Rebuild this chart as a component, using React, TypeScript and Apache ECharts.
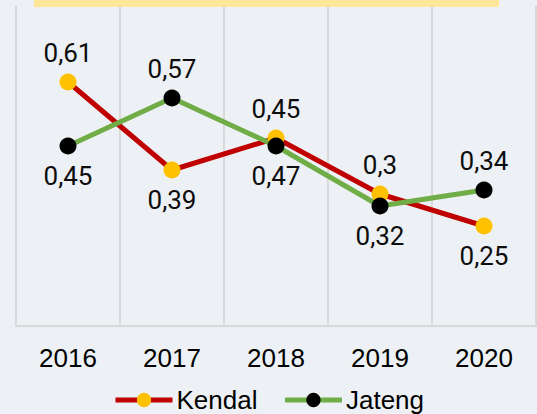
import React, { useEffect, useRef } from "react";
import * as echarts from "echarts";

const years = ["2016", "2017", "2018", "2019", "2020"];
const kendal = [0.61, 0.39, 0.47, 0.33, 0.25];
const jateng = [0.45, 0.57, 0.45, 0.3, 0.34];
const kendalLabels = ["0,61", "0,39", "0,45", "0,3", "0,25"];
const jatengLabels = ["0,45", "0,57", "0,47", "0,32", "0,34"];

export default function App() {
  const ref = useRef<HTMLDivElement>(null);
  useEffect(() => {
    document.body.style.margin = "0";
    const chart = echarts.init(ref.current!, null, { renderer: "svg" });
    const labelFont = {
      fontFamily: "Roboto",
      fontSize: 26,
      color: "#0d0d0d",
      distance: 8,
    };
    const mk = (vals: number[], other: number[], labels: string[]) =>
      vals.map((v, i) => ({
        value: v,
        label: {
          position: v >= other[i] ? "top" : "bottom",
          formatter: labels[i],
        },
      }));
    chart.setOption({
      animation: false,
      backgroundColor: "#edf1f5",
      graphic: [
        {
          type: "rect",
          shape: { x: 34, y: 0, width: 465, height: 7 },
          style: { fill: "#ffe699" },
        },
      ],
      grid: { left: 16, right: 1, top: 6, bottom: 88 },
      legend: {
        bottom: -4,
        left: "center",
        itemWidth: 57,
        itemHeight: 18,
        itemGap: 25,
        lineStyle: { width: 5 },
        textStyle: { fontFamily: "Liberation Sans", fontSize: 26, color: "#000", padding: [0, 0, 0, -1] },
        data: ["Kendal", "Jateng"],
      },
      xAxis: {
        type: "category",
        data: years,
        boundaryGap: true,
        axisLine: { lineStyle: { color: "#d9d9d9", width: 2 } },
        axisTick: { show: false },
        splitLine: { show: true, lineStyle: { color: "#d9d9d9", width: 2 } },
        axisLabel: {
          fontFamily: "Liberation Sans",
          fontSize: 26,
          color: "#000",
          margin: 19,
        },
      },
      yAxis: {
        type: "value",
        min: 0,
        max: 0.8,
        show: false,
        splitLine: { show: false },
      },
      series: [
        {
          name: "Kendal",
          type: "line",
          data: mk(kendal, jateng, kendalLabels),
          symbol: "circle",
          symbolSize: 17,
          lineStyle: { color: "#c00000", width: 5 },
          itemStyle: { color: "#ffc000" },
          label: { show: true, ...labelFont },
        },
        {
          name: "Jateng",
          type: "line",
          data: mk(jateng, kendal, jatengLabels),
          symbol: "circle",
          symbolSize: 17,
          lineStyle: { color: "#70ad47", width: 5 },
          itemStyle: { color: "#000000" },
          label: { show: true, ...labelFont },
        },
      ],
    });
    return () => chart.dispose();
  }, []);
  return <div ref={ref} style={{ width: 537, height: 414 }} />;
}
